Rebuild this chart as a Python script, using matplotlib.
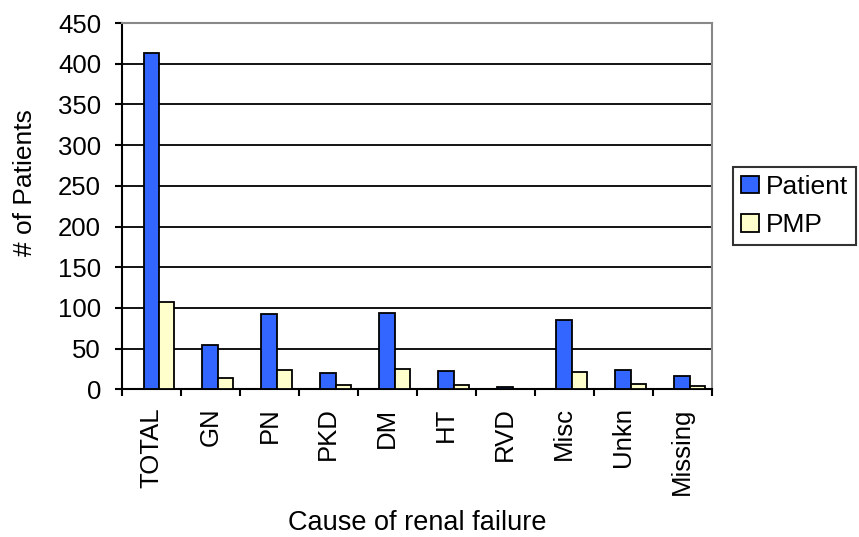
import matplotlib
matplotlib.use("Agg")
import matplotlib.pyplot as plt
import numpy as np

categories = ["TOTAL", "GN", "PN", "PKD", "DM", "HT", "RVD", "Misc", "Unkn", "Missing"]
patient = [413, 55, 93, 20, 94, 23, 3, 85, 24, 16]
pmp = [107, 14, 24, 5, 25, 5, 1, 21, 6, 4]
yticks = [0, 50, 100, 150, 200, 250, 300, 350, 400, 450]

plt.rcParams['font.family'] = ['Liberation Sans', 'DejaVu Sans']

fig = plt.figure(figsize=(8.59, 5.37), dpi=100)
ax = fig.add_axes([0.142, 0.275, 0.6865, 0.682])

x = np.arange(len(categories))
w = 0.26
ax.bar(x - 0.005, patient, width=w, color="#3366FF", edgecolor="black", linewidth=1.3,
       label="Patient", zorder=3)
ax.bar(x + 0.255, pmp, width=w, color="#FFFFCC", edgecolor="black", linewidth=1.3,
       label="PMP", zorder=3)

ax.set_xlim(-0.5, len(categories) - 0.5)
ax.set_ylim(0, 450)
ax.set_yticks(yticks)
ax.set_yticklabels([str(v) for v in yticks], fontsize=18.5)
ax.yaxis.grid(True, color="black", linewidth=1.3, zorder=0)
ax.set_axisbelow(True)

ax.set_xticks(x)
ax.set_xticklabels(categories, rotation=90, fontsize=18.5, va="top")
ax.tick_params(axis="x", which="major", length=0, pad=13)
ax.set_xticks(np.arange(len(categories) + 1) - 0.5, minor=True)
ax.tick_params(axis="x", which="minor", length=5, width=1.5, direction="out")
ax.tick_params(axis="y", length=5, width=1.5, direction="out", pad=10)

for s in ["left", "bottom"]:
    ax.spines[s].set_color("black")
    ax.spines[s].set_linewidth(1.5)
for s in ["top", "right"]:
    ax.spines[s].set_color("#888888")
    ax.spines[s].set_linewidth(1.5)

fig.text(25 / 859, 1 - 183 / 537, "# of Patients", rotation=90, fontsize=19,
         ha="center", va="center")
fig.text(417 / 859, 1 - 530 / 537, "Cause of renal failure", fontsize=19.5,
         ha="center", va="baseline")

leg = fig.legend(loc="upper left", bbox_to_anchor=(733 / 859, 1 - 167 / 537),
                 fontsize=19, frameon=True, fancybox=False, edgecolor="black",
                 handlelength=0.68, handleheight=0.65, handletextpad=0.27,
                 borderpad=0.3, labelspacing=0.55, borderaxespad=0)
leg.get_frame().set_linewidth(1.5)

fig.savefig("out.png", dpi=100)
